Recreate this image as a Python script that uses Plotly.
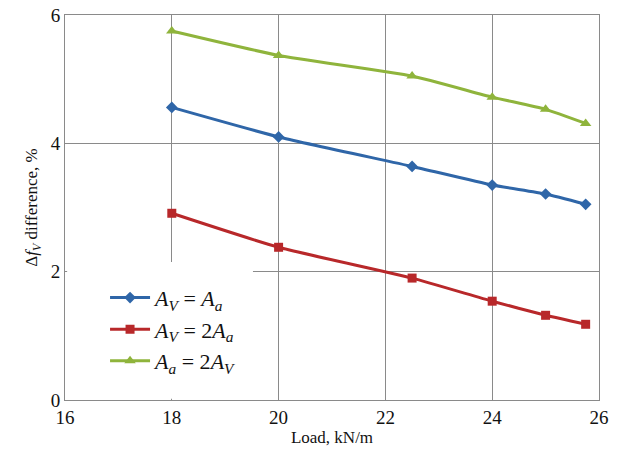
import plotly.graph_objects as go

load = [18, 20, 22.5, 24, 25, 25.75]
av_eq_aa = [4.56, 4.10, 3.64, 3.35, 3.21, 3.05]
av_2aa = [2.91, 2.38, 1.90, 1.54, 1.32, 1.18]
aa_2av = [5.75, 5.37, 5.05, 4.72, 4.53, 4.31]

x_ticks = [16, 18, 20, 22, 24, 26]
y_ticks = [0, 2, 4, 6]

FONT = "'Liberation Serif', 'Times New Roman', serif"

fig = go.Figure()
series = [
    ("<i>A</i><sub><i>V</i></sub> = <i>A</i><sub><i>a</i></sub>", av_eq_aa, "#2f66a8", "diamond", 9),
    ("<i>A</i><sub><i>V</i></sub> = 2<i>A</i><sub><i>a</i></sub>", av_2aa, "#b8282a", "square", 9),
    ("<i>A</i><sub><i>a</i></sub> = 2<i>A</i><sub><i>V</i></sub>", aa_2av, "#8fb43c", "triangle-up", 10),
]
for name, ys, col, sym, sz in series:
    fig.add_trace(go.Scatter(
        x=load, y=ys, name=name, mode="lines+markers",
        line=dict(color=col, width=3, shape="spline", smoothing=0.5),
        marker=dict(symbol=sym, size=sz, color=col),
    ))

fig.add_shape(type="rect", x0=16.04, x1=19.52, y0=0.02, y1=2.15,
              xref="x", yref="y", fillcolor="white", line=dict(width=0),
              layer="between")

fig.update_layout(
    width=623, height=453,
    margin=dict(l=65, r=24, t=15, b=53, autoexpand=False),
    plot_bgcolor="white", paper_bgcolor="white",
    font=dict(family=FONT, size=17, color="#111"),
    showlegend=True,
    legend=dict(x=0.075, y=0.32, xanchor="left", yanchor="top",
                bgcolor="rgba(0,0,0,0)", font=dict(family=FONT, size=22, color="#111"),
                itemwidth=40, tracegroupgap=0),
)
fig.update_xaxes(
    range=[16, 26], tickvals=x_ticks, ticktext=[str(v) for v in x_ticks],
    showgrid=True, gridcolor="#8a8a8a", gridwidth=1,
    showline=True, linecolor="#8a8a8a", linewidth=1, mirror=True,
    zeroline=False, ticks="", tickfont=dict(family=FONT, size=19, color="#111"),
    automargin=False,
    title=dict(text="Load, kN/m", font=dict(family=FONT, size=17, color="#111"), standoff=4),
)
fig.update_yaxes(
    range=[0, 6], tickvals=y_ticks, ticktext=[str(v) for v in y_ticks],
    showgrid=True, gridcolor="#8a8a8a", gridwidth=1,
    showline=True, linecolor="#8a8a8a", linewidth=1, mirror=True,
    zeroline=False, ticks="", tickfont=dict(family=FONT, size=19, color="#111"),
    automargin=False,
    title=dict(text="Δ<i>f</i><sub><i>V</i></sub> difference, %", font=dict(family=FONT, size=17, color="#111"), standoff=8),
)

fig.write_html("out.html", config={"displayModeBar": False},
               post_script="document.body.style.margin='0';document.body.style.padding='0';")
